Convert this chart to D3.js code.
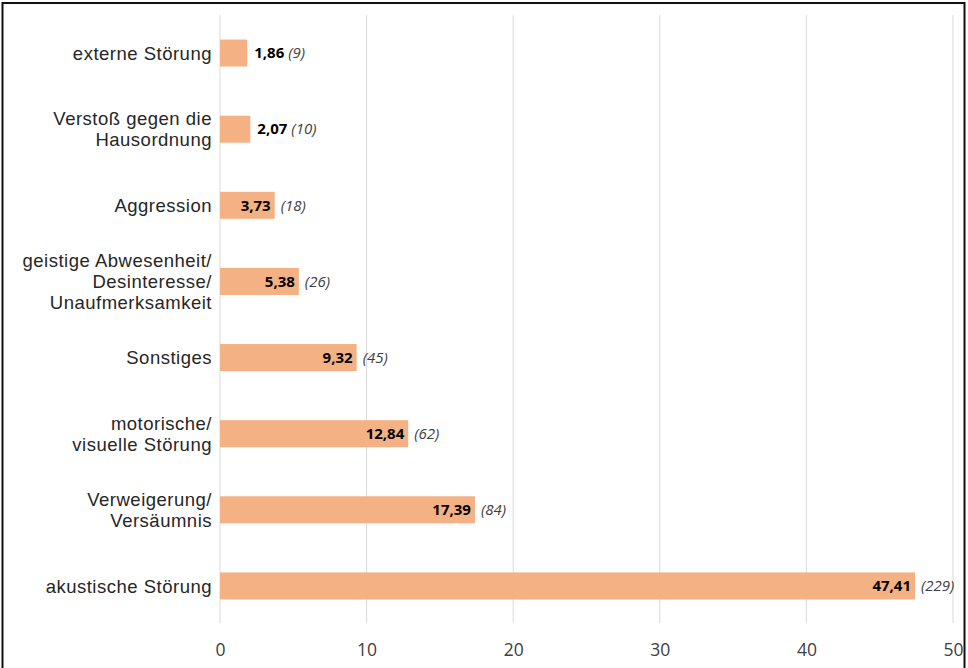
<!DOCTYPE html>
<html><head><meta charset="utf-8">
<script src="https://cdn.jsdelivr.net/npm/d3@7"></script>
<style>body{margin:0;background:#fff}svg{display:block}</style>
</head><body>
<script>
const categories = ["externe Störung","Verstoß gegen die\nHausordnung","Aggression","geistige Abwesenheit/\nDesinteresse/\nUnaufmerksamkeit","Sonstiges","motorische/\nvisuelle Störung","Verweigerung/\nVersäumnis","akustische Störung"];
const values = [1.86, 2.07, 3.73, 5.38, 9.32, 12.84, 17.39, 47.41];
const counts = [9, 10, 18, 26, 45, 62, 84, 229];
const xTicks = [0, 10, 20, 30, 40, 50];

const W = 968, H = 668;
const font = "'Open Sans', sans-serif";
const labelFont = "'Liberation Sans', Arial, sans-serif";
const svg = d3.select("body").append("svg").attr("width", W).attr("height", H);
svg.append("rect").attr("x", 0).attr("y", 0).attr("width", W).attr("height", H).attr("fill", "#fff");
svg.append("rect").attr("x", 2.5).attr("y", 3).attr("width", 962).attr("height", 700)
  .attr("fill", "none").attr("stroke", "#111").attr("stroke-width", 2);

const x = d3.scaleLinear().domain([0, 50]).range([220, 953]);
const y = d3.scaleBand().domain(categories).range([15, 624]).paddingInner(0.645).paddingOuter(0.3225);

const g = svg.append("g");
g.selectAll("line.grid").data(xTicks).join("line")
  .attr("x1", d => x(d)).attr("x2", d => x(d)).attr("y1", 15).attr("y2", 623)
  .attr("stroke", "#d9d9d9").attr("stroke-width", 1);

const ax = svg.append("g").attr("transform", "translate(0,623)")
  .call(d3.axisBottom(x).tickValues(xTicks).tickSize(0).tickPadding(21).tickFormat(d3.format("d")));
ax.select(".domain").remove();
ax.selectAll("text").attr("font-family", font).attr("font-size", 17.5).attr("fill", "#404040");

const data = categories.map((c, i) => ({c, v: values[i], n: counts[i]}));
g.selectAll("rect.bar").data(data).join("rect")
  .attr("x", x(0)).attr("y", d => y(d.c)).attr("width", d => x(d.v) - x(0)).attr("height", y.bandwidth())
  .attr("fill", "#F4B183");

const cl = svg.append("g");
data.forEach(d => {
  const lines = d.c.split("\n");
  const cy = y(d.c) + y.bandwidth() / 2;
  const lh = 21;
  const t = cl.append("text").attr("text-anchor", "end").attr("font-family", labelFont).attr("font-size", 18.5)
    .attr("letter-spacing", 0.5).attr("fill", "#262626");
  lines.forEach((ln, i) => {
    t.append("tspan").attr("x", 212).attr("y", cy + (i - (lines.length - 1) / 2) * lh).attr("dy", "0.36em").text(ln);
  });
});

const fmt = v => v.toFixed(2).replace(".", ",");
const fs = 15;
data.forEach(d => {
  const cy = y(d.c) + y.bandwidth() / 2;
  const inside = d.v > 3;
  const t = svg.append("text").attr("font-family", font).attr("font-size", fs).attr("dy", "0.35em").attr("y", cy);
  t.append("tspan").attr("font-weight", "bold").attr("fill", "#000").text(fmt(d.v));
  if (inside) {
    const tmp = svg.append("text").attr("font-family", font).attr("font-size", fs).attr("font-weight", "bold").text(fmt(d.v));
    const w = tmp.node().getComputedTextLength(); tmp.remove();
    t.attr("x", x(d.v) - 4 - w);
    t.append("tspan").attr("x", x(d.v) + 6).attr("font-style", "italic").attr("fill", "#404040").text("(" + d.n + ")");
  } else {
    t.attr("x", x(d.v) + 7);
    t.append("tspan").attr("dx", 4).attr("font-style", "italic").attr("fill", "#404040").text("(" + d.n + ")");
  }
});
</script>
</body></html>
